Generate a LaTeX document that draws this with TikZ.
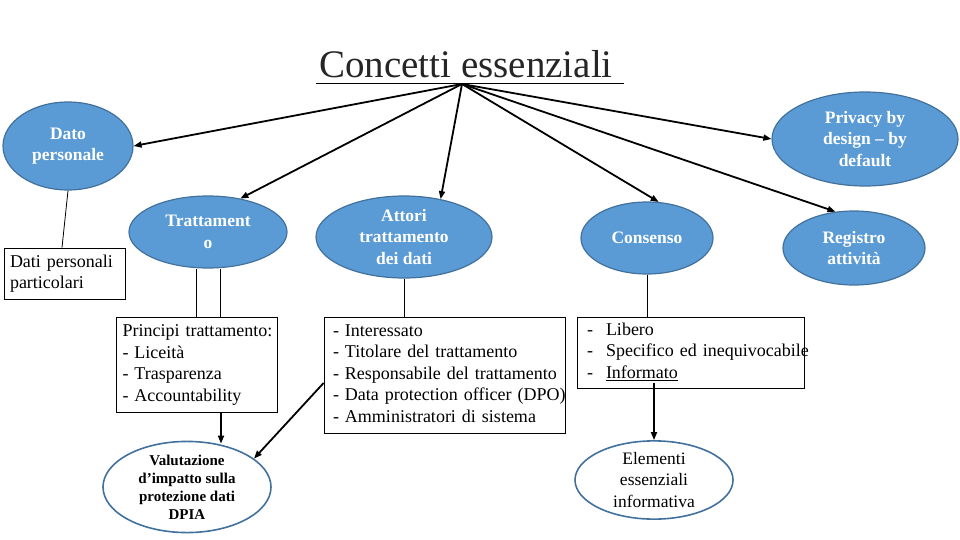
\documentclass[tikz,border=0pt]{standalone}
\usepackage{fontspec}
\setmainfont{Liberation Serif}
\usetikzlibrary{shapes.geometric,arrows.meta}
\definecolor{blu}{HTML}{5B9BD5}
\definecolor{blubordo}{HTML}{41719C}
\newcommand{\righe}[1]{\begin{tabular}{@{}l@{}}#1\end{tabular}}
\newcommand{\trattino}{\makebox[19pt][l]{-}}
\begin{document}
\begin{tikzpicture}[x=1pt,y=-1pt,
    concetto/.style={ellipse,draw=blubordo,line width=1.2pt,fill=blu,text=white,align=center,inner sep=0pt,font=\fontsize{17.5}{21.5}\selectfont\bfseries},
    esito/.style={ellipse,draw=blubordo,line width=1.6pt,fill=white,align=center,inner sep=0pt},
    riquadro/.style={draw,line width=0.8pt,align=left,inner sep=0pt,font=\fontsize{18}{21.5}\selectfont},
    freccia/.style={-{Triangle[length=8pt,width=6pt]},line width=1.8pt},
    linea/.style={line width=0.8pt}]
  \useasboundingbox (0,0) rectangle (960,540);
  % titolo
  \node[anchor=base,text=black!85,font=\fontsize{39}{44}\selectfont] (titolo) at (466,78) {Concetti essenziali};
  \draw[linea] (316,83) -- (624,83);
  \coordinate (hub) at (462,84);
  % concetti
  \node[concetto,minimum width=130pt,minimum height=88pt] (dato) at (68,146) {Dato\\personale};
  \node[concetto,minimum width=158pt,minimum height=72pt] (tratt) at (208,232) {Trattament\\o};
  \node[concetto,minimum width=176pt,minimum height=82pt] (attori) at (404,237) {Attori\\trattamento\\dei dati};
  \node[concetto,minimum width=132pt,minimum height=72pt] (consenso) at (647,238) {Consenso};
  \node[concetto,minimum width=186pt,minimum height=94pt] (privacy) at (865,139) {Privacy by\\design -- by\\default};
  \node[concetto,minimum width=142pt,minimum height=74pt] (registro) at (854,248) {Registro\\attività};
  % riquadri
  \node[riquadro,minimum width=121pt,minimum height=51pt,text width=109pt] (particolari) at (64.5,273.5) {\righe{Dati personali\\particolari}};
  \node[riquadro,minimum width=161pt,minimum height=95pt,text width=148pt] (principi) at (196.5,364.5) {\righe{Principi trattamento:\\- Liceità\\- Trasparenza\\- Accountability}};
  \node[riquadro,minimum width=241pt,minimum height=116pt,text width=223pt] (ruoli) at (444.5,375) {\righe{- Interessato\\- Titolare del trattamento\\- Responsabile del trattamento\\- Data protection officer (DPO)\\- Amministratori di sistema}};
  \node[riquadro,minimum width=227pt,minimum height=71pt,text width=207pt] (requisiti) at (690.5,352.5) {\righe{\trattino Libero\\\trattino Specifico ed inequivocabile\\\trattino\underline{Informato}}};
  \coordinate (informato) at (654,383);
  % esiti
  \node[esito,minimum width=168pt,minimum height=84pt,font=\fontsize{15}{18}\selectfont\bfseries] (dpia) at (187,487) {Valutazione\\d'impatto sulla\\protezione dati\\DPIA};
  \node[esito,minimum width=158pt,minimum height=68pt,font=\fontsize{17.5}{21.5}\selectfont] (elementi) at (654,480) {Elementi\\essenziali\\informativa};
  % frecce dal titolo
  \draw[freccia] (hub) -- (dato.east);
  \draw[freccia] (hub) -- (tratt.46);
  \draw[freccia] (hub) -- (attori.46);
  \draw[freccia] (hub) -- (consenso.72);
  \draw[freccia] (hub) -- (registro.117);
  \draw[freccia] (hub) -- (privacy.west);
  % collegamenti
  \draw[linea] (dato.south) -- ([xshift=-2.5pt]particolari.north);
  \draw[linea] (principi.north) -- (principi.north |- tratt.south);
  \draw[linea] ([xshift=23.5pt]principi.north) -- ([xshift=23.5pt]principi.north |- tratt.south);
  \draw[linea] (attori.south) -- (attori.south |- ruoli.north);
  \draw[linea] (consenso.south) -- (consenso.south |- requisiti.north);
  \draw[freccia,shorten >=-3pt] ([xshift=24.5pt]principi.south) -- ([xshift=24.5pt]principi.south |- dpia.north);
  \draw[freccia] ([yshift=-8pt]ruoli.west) -- (dpia.23);
  \draw[freccia] (informato) -- (elementi.north);
\end{tikzpicture}
\end{document}
